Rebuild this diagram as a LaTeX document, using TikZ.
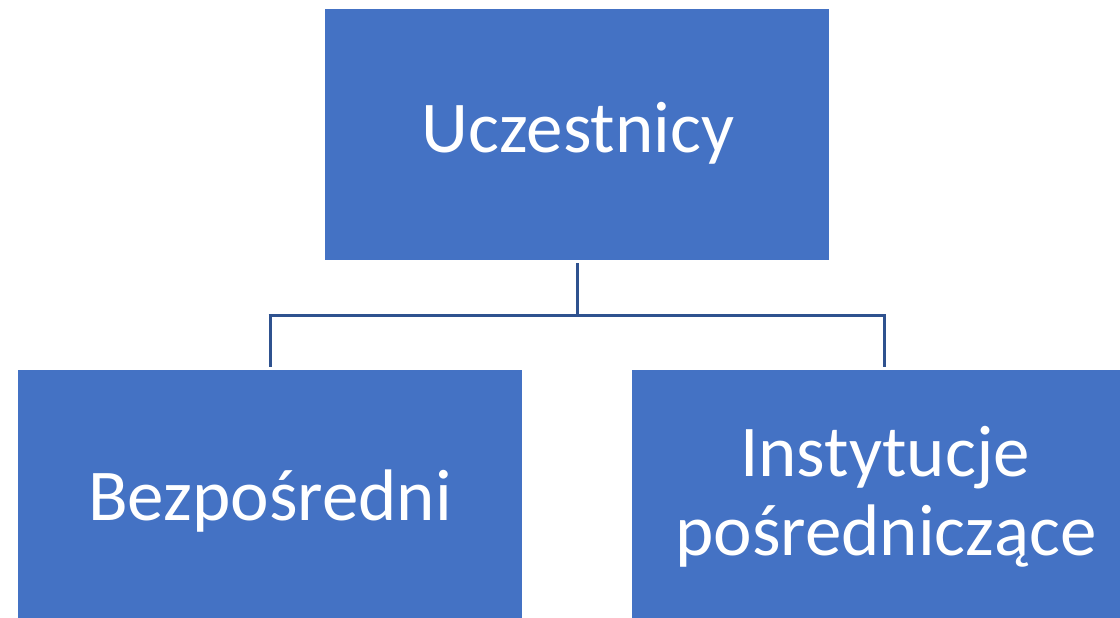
\documentclass[tikz,border=0pt]{standalone}
\usepackage{fontspec}
\setmainfont{Carlito}
\definecolor{boxblue}{HTML}{4472C4}
\definecolor{linkblue}{HTML}{2F528F}
\begin{document}
\begin{tikzpicture}[x=1pt,y=-1pt,
  box/.style={fill=boxblue, draw=none, minimum width=504pt, minimum height=251pt, inner sep=0pt},
  lbl/.style={text=white, anchor=base, inner sep=0pt, align=center, font=\fontsize{73}{79}\selectfont},
  conn/.style={draw=linkblue, line width=3pt, shorten <=3pt, shorten >=3pt}]
\useasboundingbox (0,0) rectangle (1120,618);
\clip (0,0) rectangle (1120,618);
\node[box] (top) at (577,134.5) {};
\node[box] (bl) at (270,495.5) {};
\node[box] (br) at (884,495.5) {};
\node[lbl] (tl) at (578,152) {Uczestnicy};
\node[lbl] (bll) at (270,520) {Bezpośredni};
\node[lbl] (brl1) at (885,476) {Instytucje};
\node[lbl] (brl2) at (886,555) {pośredniczące};
\coordinate (mid) at (577,315);
\draw[conn] (top.south) -- ([yshift=-3pt]mid);
\draw[line width=3pt, draw=linkblue] (mid -| bl.north) ++(-1.5,0) -- ([xshift=1.5pt]mid -| br.north);
\draw[conn, shorten <=0pt] (mid -| bl.north) -- (bl.north);
\draw[conn, shorten <=0pt] (mid -| br.north) -- (br.north);
\end{tikzpicture}
\end{document}
